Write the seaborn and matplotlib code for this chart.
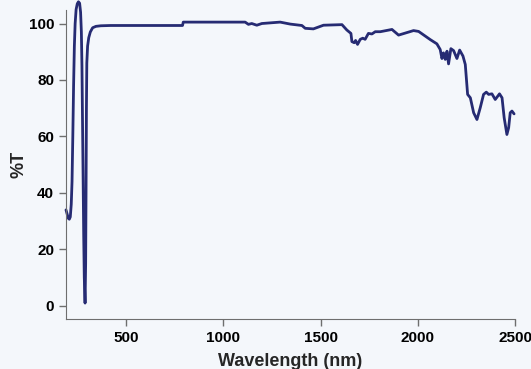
import pandas as pd
import seaborn as sns
import matplotlib.pyplot as plt

# transmission spectrum
wavelength = [191, 197, 203, 208, 213, 218, 222, 226, 230, 234, 238, 243, 249, 255,
              261, 266, 270, 273, 276, 279, 282, 285, 289, 292, 294, 296, 298, 302,
              308, 316, 328, 345, 370, 420, 600, 790, 794, 900, 1112, 1129, 1146,
              1172, 1198, 1292, 1344, 1404, 1421, 1463, 1515, 1610, 1635, 1656, 1661,
              1673, 1680, 1690, 1704, 1717, 1729, 1746, 1764, 1781, 1807, 1867, 1901,
              1978, 2004, 2064, 2098, 2115, 2124, 2132, 2141, 2150, 2158, 2170, 2184,
              2201, 2215, 2232, 2244, 2256, 2270, 2287, 2304, 2321, 2338, 2352, 2364,
              2381, 2398, 2420, 2433, 2444, 2458, 2467, 2475, 2484, 2495]
transmission = [34, 32.5, 31, 30.7, 31.5, 36, 44, 60, 78, 92, 100, 105, 107, 107.7,
                107.2, 104, 97, 85, 65, 45, 25, 10, 1, 15, 40, 70, 86, 92,
                95, 97, 98.5, 99, 99.2, 99.3, 99.3, 99.3, 100.5, 100.5, 100.5, 99.7, 100,
                99.4, 100, 100.5, 99.8, 99.3, 98.3, 98.1, 99.4, 99.6, 97.7, 96.5, 93.6,
                93.2, 94, 92.6, 94.4, 94.8, 94.4, 96.5, 96.3, 97.1, 97.1, 97.9, 95.9,
                97.5, 97.2, 94.3, 92.8, 90.8, 87.6, 89.6, 87.3, 90.2, 85.7, 91.1, 90.4,
                87.6, 90.6, 88.5, 85.5, 74.9, 73.7, 68.4, 66, 70.2, 74.9, 75.7, 74.9,
                75.1, 73.1, 75.1, 73.7, 66.6, 60.7, 63.1, 68.4, 69, 68]
xticks = [500, 1000, 1500, 2000, 2500]
yticks = [0, 20, 40, 60, 80, 100]

df = pd.DataFrame({"Wavelength": wavelength, "T": transmission})

bg = "#F4F7FB"
sns.set_style("ticks", {"axes.facecolor": bg, "figure.facecolor": bg,
                        "axes.edgecolor": "#6E6E6E"})
plt.rcParams["font.family"] = ["Liberation Sans", "DejaVu Sans"]

fig = plt.figure(figsize=(5.31, 3.69), dpi=100)
ax = fig.add_axes([0.1243, 0.135, 0.8457, 0.838])

sns.lineplot(data=df, x="Wavelength", y="T", ax=ax, color="#262B73",
             linewidth=2, clip_on=False)

ax.set_xlim(191, 2500)
ax.set_ylim(-4.7, 104.8)
ax.set_xticks(xticks)
ax.set_yticks(yticks)
ax.tick_params(colors="#6E6E6E", labelcolor="black", length=5, width=1,
               labelsize=11)
for lbl in ax.get_xticklabels() + ax.get_yticklabels():
    lbl.set_fontweight("bold")
ax.set_xlabel("Wavelength (nm)", fontsize=13, fontweight="bold", labelpad=6)
ax.set_ylabel("%T", fontsize=13, fontweight="bold", labelpad=1)
sns.despine(ax=ax)

fig.savefig("out.png", dpi=100, facecolor=bg)
